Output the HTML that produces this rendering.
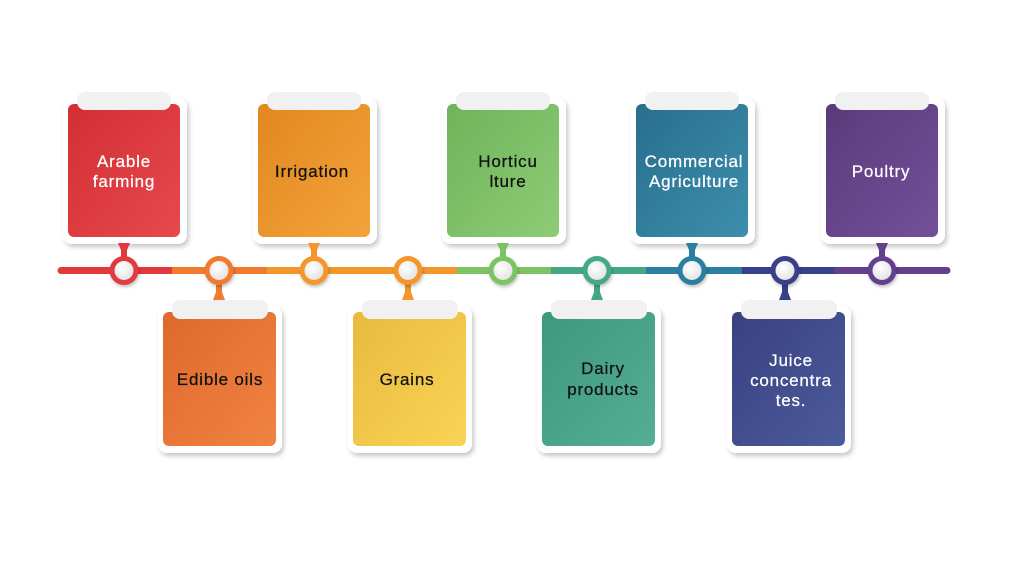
<!DOCTYPE html>
<html><head><meta charset="utf-8"><style>
html,body{margin:0;padding:0;background:#fff;}
svg{display:block;}
text{font-family:"Liberation Sans",sans-serif;font-size:17px;letter-spacing:0.8px;text-anchor:middle;stroke-width:0.25px;}
</style></head><body>
<svg width="1024" height="576" viewBox="0 0 1024 576" xmlns="http://www.w3.org/2000/svg">
<defs>
<filter id="sh" x="-20%" y="-20%" width="140%" height="140%"><feDropShadow dx="2" dy="3" stdDeviation="2.5" flood-color="#000" flood-opacity="0.22"/></filter>
<filter id="sh2" x="-30%" y="-30%" width="160%" height="160%"><feDropShadow dx="1" dy="2" stdDeviation="1.5" flood-color="#000" flood-opacity="0.25"/></filter>
<radialGradient id="cw" cx="0.4" cy="0.35" r="0.7"><stop offset="0" stop-color="#ffffff"/><stop offset="1" stop-color="#e2e2e2"/></radialGradient>
<linearGradient id="g1" x1="0" y1="0" x2="1" y2="1"><stop offset="0" stop-color="#d22f33"/><stop offset="1" stop-color="#e6494c"/></linearGradient>
<linearGradient id="g2" x1="0" y1="0" x2="1" y2="1"><stop offset="0" stop-color="#dd692d"/><stop offset="1" stop-color="#f18342"/></linearGradient>
<linearGradient id="g3" x1="0" y1="0" x2="1" y2="1"><stop offset="0" stop-color="#e1881f"/><stop offset="1" stop-color="#f3a33b"/></linearGradient>
<linearGradient id="g4" x1="0" y1="0" x2="1" y2="1"><stop offset="0" stop-color="#e8ba3e"/><stop offset="1" stop-color="#f9d455"/></linearGradient>
<linearGradient id="g5" x1="0" y1="0" x2="1" y2="1"><stop offset="0" stop-color="#6fb35b"/><stop offset="1" stop-color="#8dcc75"/></linearGradient>
<linearGradient id="g6" x1="0" y1="0" x2="1" y2="1"><stop offset="0" stop-color="#3e987e"/><stop offset="1" stop-color="#55ae93"/></linearGradient>
<linearGradient id="g7" x1="0" y1="0" x2="1" y2="1"><stop offset="0" stop-color="#296e8e"/><stop offset="1" stop-color="#3c8eac"/></linearGradient>
<linearGradient id="g8" x1="0" y1="0" x2="1" y2="1"><stop offset="0" stop-color="#394181"/><stop offset="1" stop-color="#4c5b9b"/></linearGradient>
<linearGradient id="g9" x1="0" y1="0" x2="1" y2="1"><stop offset="0" stop-color="#5b3a7b"/><stop offset="1" stop-color="#73509a"/></linearGradient>
</defs>

<g stroke-width="7">
<line x1="61" y1="270.5" x2="172" y2="270.5" stroke="#e23a3c" stroke-linecap="round"/>
<line x1="172" y1="270.5" x2="267" y2="270.5" stroke="#f07a2e"/>
<line x1="267" y1="270.5" x2="457" y2="270.5" stroke="#f5962a"/>
<line x1="457" y1="270.5" x2="551" y2="270.5" stroke="#7cc463"/>
<line x1="551" y1="270.5" x2="646" y2="270.5" stroke="#44a886"/>
<line x1="646" y1="270.5" x2="742" y2="270.5" stroke="#2b7fa1"/>
<line x1="742" y1="270.5" x2="837" y2="270.5" stroke="#37418b"/>
<line x1="837" y1="270.5" x2="947" y2="270.5" stroke="#62408e" stroke-linecap="round"/>
</g>

<g>
<rect x="63" y="98" width="124" height="146" rx="9" fill="#fff" filter="url(#sh)"/>
<rect x="68" y="104" width="112" height="133" rx="6" fill="url(#g1)"/>
<rect x="77" y="92" width="94" height="18" rx="8" fill="#f1f1f1"/>
<path d="M118,243 L130,243 L127,250 L127,259 L121,259 L121,250 Z" fill="#e23a3c"/>
<circle cx="124" cy="270.5" r="14.5" fill="#e23a3c" filter="url(#sh2)"/>
<circle cx="124" cy="270.5" r="9.5" fill="url(#cw)"/>
<text x="124" y="167" fill="#fff" stroke="#fff">Arable</text>
<text x="124" y="187" fill="#fff" stroke="#fff">farming</text>
</g>
<g>
<rect x="253" y="98" width="124" height="146" rx="9" fill="#fff" filter="url(#sh)"/>
<rect x="258" y="104" width="112" height="133" rx="6" fill="url(#g3)"/>
<rect x="267" y="92" width="94" height="18" rx="8" fill="#f1f1f1"/>
<path d="M308,243 L320,243 L317,250 L317,259 L311,259 L311,250 Z" fill="#f5962a"/>
<circle cx="314" cy="270.5" r="14.5" fill="#f5962a" filter="url(#sh2)"/>
<circle cx="314" cy="270.5" r="9.5" fill="url(#cw)"/>
<text x="312" y="177" fill="#111" stroke="#111">Irrigation</text>
</g>
<g>
<rect x="442" y="98" width="124" height="146" rx="9" fill="#fff" filter="url(#sh)"/>
<rect x="447" y="104" width="112" height="133" rx="6" fill="url(#g5)"/>
<rect x="456" y="92" width="94" height="18" rx="8" fill="#f1f1f1"/>
<path d="M497,243 L509,243 L506,250 L506,259 L500,259 L500,250 Z" fill="#7cc463"/>
<circle cx="503" cy="270.5" r="14.5" fill="#7cc463" filter="url(#sh2)"/>
<circle cx="503" cy="270.5" r="9.5" fill="url(#cw)"/>
<text x="508" y="167" fill="#111" stroke="#111">Horticu</text>
<text x="508" y="187" fill="#111" stroke="#111">lture</text>
</g>
<g>
<rect x="631" y="98" width="124" height="146" rx="9" fill="#fff" filter="url(#sh)"/>
<rect x="636" y="104" width="112" height="133" rx="6" fill="url(#g7)"/>
<rect x="645" y="92" width="94" height="18" rx="8" fill="#f1f1f1"/>
<path d="M686,243 L698,243 L695,250 L695,259 L689,259 L689,250 Z" fill="#2b7fa1"/>
<circle cx="692" cy="270.5" r="14.5" fill="#2b7fa1" filter="url(#sh2)"/>
<circle cx="692" cy="270.5" r="9.5" fill="url(#cw)"/>
<text x="694" y="167" fill="#fff" stroke="#fff">Commercial</text>
<text x="694" y="187" fill="#fff" stroke="#fff">Agriculture</text>
</g>
<g>
<rect x="821" y="98" width="124" height="146" rx="9" fill="#fff" filter="url(#sh)"/>
<rect x="826" y="104" width="112" height="133" rx="6" fill="url(#g9)"/>
<rect x="835" y="92" width="94" height="18" rx="8" fill="#f1f1f1"/>
<path d="M876,243 L888,243 L885,250 L885,259 L879,259 L879,250 Z" fill="#62408e"/>
<circle cx="882" cy="270.5" r="14.5" fill="#62408e" filter="url(#sh2)"/>
<circle cx="882" cy="270.5" r="9.5" fill="url(#cw)"/>
<text x="881" y="177" fill="#fff" stroke="#fff">Poultry</text>
</g>

<g>
<rect x="158" y="306" width="124" height="147" rx="9" fill="#fff" filter="url(#sh)"/>
<rect x="163" y="312" width="113" height="134" rx="6" fill="url(#g2)"/>
<path d="M216,282 L222,282 L222,292 L225,300 L213,300 L216,292 Z" fill="#f07a2e"/>
<rect x="172" y="300" width="96" height="19" rx="8" fill="#f1f1f1"/>
<circle cx="219" cy="270.5" r="14.5" fill="#f07a2e" filter="url(#sh2)"/>
<circle cx="219" cy="270.5" r="9.5" fill="url(#cw)"/>
<text x="220" y="385" fill="#111" stroke="#111">Edible oils</text>
</g>
<g>
<rect x="348" y="306" width="124" height="147" rx="9" fill="#fff" filter="url(#sh)"/>
<rect x="353" y="312" width="113" height="134" rx="6" fill="url(#g4)"/>
<path d="M405,282 L411,282 L411,292 L414,300 L402,300 L405,292 Z" fill="#f5962a"/>
<rect x="362" y="300" width="96" height="19" rx="8" fill="#f1f1f1"/>
<circle cx="408" cy="270.5" r="14.5" fill="#f5962a" filter="url(#sh2)"/>
<circle cx="408" cy="270.5" r="9.5" fill="url(#cw)"/>
<text x="407" y="385" fill="#111" stroke="#111">Grains</text>
</g>
<g>
<rect x="537" y="306" width="124" height="147" rx="9" fill="#fff" filter="url(#sh)"/>
<rect x="542" y="312" width="113" height="134" rx="6" fill="url(#g6)"/>
<path d="M594,282 L600,282 L600,292 L603,300 L591,300 L594,292 Z" fill="#44a886"/>
<rect x="551" y="300" width="96" height="19" rx="8" fill="#f1f1f1"/>
<circle cx="597" cy="270.5" r="14.5" fill="#44a886" filter="url(#sh2)"/>
<circle cx="597" cy="270.5" r="9.5" fill="url(#cw)"/>
<text x="603" y="374" fill="#111" stroke="#111">Dairy</text>
<text x="603" y="395" fill="#111" stroke="#111">products</text>
</g>
<g>
<rect x="727" y="306" width="124" height="147" rx="9" fill="#fff" filter="url(#sh)"/>
<rect x="732" y="312" width="113" height="134" rx="6" fill="url(#g8)"/>
<path d="M782,282 L788,282 L788,292 L791,300 L779,300 L782,292 Z" fill="#37418b"/>
<rect x="741" y="300" width="96" height="19" rx="8" fill="#f1f1f1"/>
<circle cx="785" cy="270.5" r="14.5" fill="#37418b" filter="url(#sh2)"/>
<circle cx="785" cy="270.5" r="9.5" fill="url(#cw)"/>
<text x="791" y="366" fill="#fff" stroke="#fff">Juice</text>
<text x="791" y="386" fill="#fff" stroke="#fff">concentra</text>
<text x="791" y="406" fill="#fff" stroke="#fff">tes.</text>
</g>
</svg>
</body></html>
